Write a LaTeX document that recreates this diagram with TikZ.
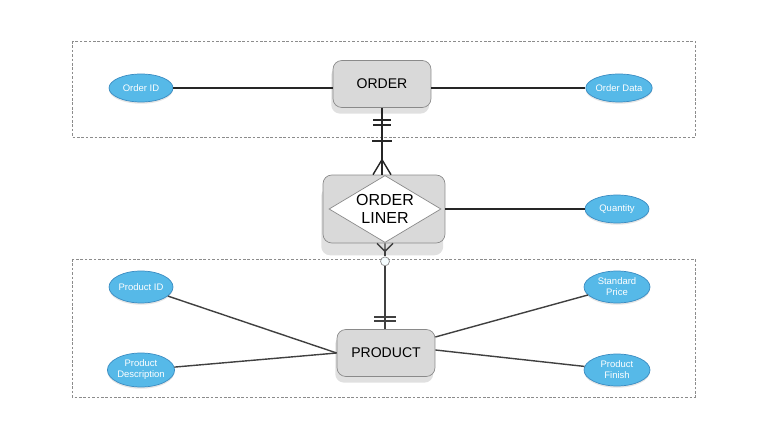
\documentclass[tikz,border=0pt]{standalone}
\usepackage{fontspec}
\setmainfont{Liberation Sans}
\usetikzlibrary{shapes.geometric, shadows, calc}
\definecolor{attrfill}{HTML}{56B9E8}
\definecolor{attrline}{HTML}{3B8CC2}
\definecolor{entfill}{HTML}{D9D9D9}
\definecolor{entline}{HTML}{8A8A8A}

\begin{document}
\begin{tikzpicture}[x=0.02cm, y=-0.02cm,
  entity/.style={draw=entline, fill=entfill, rounded corners=5pt,
    minimum width=1.96cm, minimum height=0.94cm, font=\fontsize{8}{10}\selectfont,
    drop shadow={shadow xshift=-1pt, shadow yshift=#1, fill=black!12, opacity=1}},
  entity/.default=-3.5pt,
  attr/.style={ellipse, draw=attrline, fill=attrfill, text=white, align=center,
    minimum width=1.28cm, minimum height=0.56cm, inner sep=0pt,
    font=\fontsize{5.4}{6.3}\selectfont,
    drop shadow={shadow xshift=0pt, shadow yshift=-1pt, fill=black!10, opacity=1}},
  link/.style={draw=black!85, line width=0.8pt},
  box/.style={draw=black!45, dash pattern=on 1.5pt off 1pt, line width=0.5pt}]
  \useasboundingbox (0,0) rectangle (760,428);

  % dashed groups
  \draw[box] (72,41) rectangle (695,137);
  \draw[box] (72,259) rectangle (695,397);

  % entities
  \node[entity] (order) at (382,84) {ORDER};
  \node[entity=-7pt, minimum width=2.44cm, minimum height=1.36cm] (linerbox) at (384,209) {};
  \node[diamond, draw=entline, fill=white, aspect=1.67, inner sep=0pt, align=center,
    minimum width=2.24cm, minimum height=1.34cm,
    font=\fontsize{9.1}{10.2}\selectfont] (liner) at (385,209) {ORDER\\LINER};
  \node[entity] (product) at (386,353) {PRODUCT};

  % attributes
  \node[attr] (oid) at (141,88) {Order ID};
  \node[attr] (odata) at (619,88) {Order Data};
  \node[attr] (qty) at (617,209) {Quantity};
  \node[attr, minimum height=0.64cm] (pid) at (141,287) {Product ID};
  \node[attr, minimum width=1.32cm, minimum height=0.68cm] (pdesc) at (141,370) {Product\\Description};
  \node[attr, minimum width=1.32cm, minimum height=0.64cm] (sprice) at (617,287) {Standard\\Price};
  \node[attr, minimum width=1.32cm, minimum height=0.64cm] (pfin) at (617,370) {Product\\Finish};

  \draw[link] (oid) -- (oid -| order.west);
  \draw[link] (odata -| order.east) -- (odata);
  \draw[link] (linerbox) -- (qty);
  \draw[link, black!75] (pid) -- (product.west);
  \draw[link, black!75] (pdesc) -- (product.west);
  \draw[link, black!75] (sprice) -- ($(product.east)+(0,-16)$);
  \draw[link, black!75] (pfin) -- ($(product.east)+(0,-3)$);

  % ORDER -- ORDER LINER
  \coordinate (ft) at ($(order.south |- linerbox.north)+(0,-15)$);
  \draw[link] (order.south) -- (order.south |- linerbox.north);
  \draw[link] ($(order.south)+(-9,12)$) -- ++(18,0);
  \draw[link] ($(order.south)+(-9,17)$) -- ++(18,0);
  \draw[link] ($(order.south)+(-10,33)$) -- ++(20,0);
  \draw[link] (ft) -- ++(-9,15) (ft) -- ++(9,15);

  % ORDER LINER -- PRODUCT
  \coordinate (fb) at ($(linerbox.south)+(1,8)$);
  \node[circle, draw=black!45, fill=cyan!4, inner sep=0pt, minimum size=0.18cm] (opt)
    at ($(linerbox.south)+(1,18)$) {};
  \draw[link, black!75] (fb) -- ++(-8,-8) (fb) -- ++(8,-8) (fb) -- ++(0,-8);
  \draw[link, black!75] (fb) -- (opt);
  \draw[link, black!75] (opt) -- (opt |- product.north);
  \draw[link, black!75] ($(opt |- product.north)+(-11,-12)$) -- ++(22,0);
  \draw[link, black!75] ($(opt |- product.north)+(-11,-8)$) -- ++(22,0);
\end{tikzpicture}
\end{document}
